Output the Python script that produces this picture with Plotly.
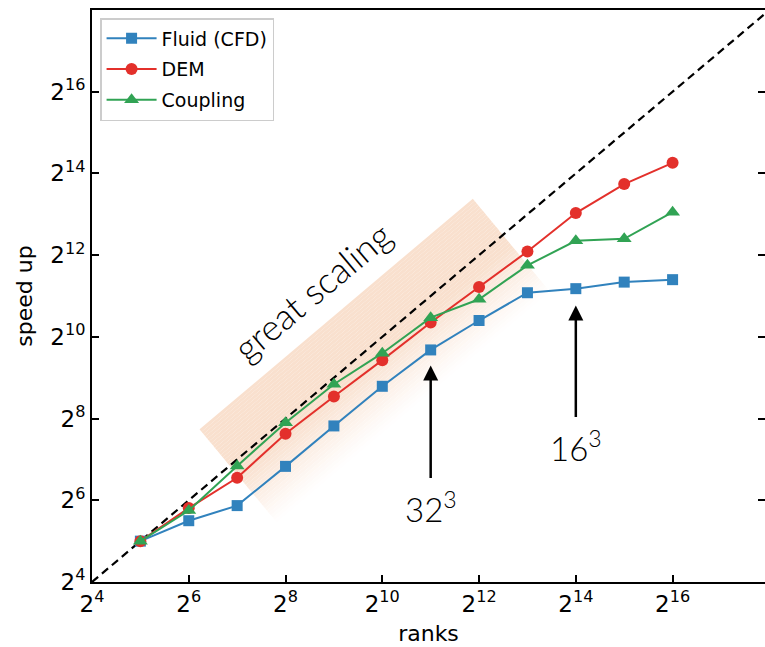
import plotly.graph_objects as go

# ---- data (log2 values) ----
ranks_exp = [5, 6, 7, 8, 9, 10, 11, 12, 13, 14, 15, 16]
fluid_exp = [5.0, 5.50, 5.87, 6.83, 7.82, 8.79, 9.68, 10.40, 11.08, 11.18, 11.34, 11.40]
dem_exp = [5.0, 5.81, 6.55, 7.63, 8.54, 9.43, 10.35, 11.22, 12.09, 13.03, 13.74, 14.26]
coupling_exp = [5.0, 5.75, 6.84, 7.90, 8.84, 9.60, 10.47, 10.92, 11.75, 12.35, 12.40, 13.05]
ideal_exp = [4, 18]
tick_exp = [4, 6, 8, 10, 12, 14, 16]
tick_text = ["2<sup>%d</sup>" % e for e in tick_exp]

BLUE = "#3182bd"
RED = "#e3302b"
GREEN = "#31a354"

fig = go.Figure()

# ideal scaling line
fig.add_trace(go.Scatter(x=ideal_exp, y=ideal_exp, mode="lines",
                         line=dict(color="black", width=2.2, dash="8px,5px"),
                         showlegend=False, hoverinfo="skip"))

for name, ys, col, sym, sz, grp in [
    ("Fluid (CFD)", fluid_exp, BLUE, "square", 11, "a"),
    ("DEM", dem_exp, RED, "circle", 12, "b"),
    ("Coupling", coupling_exp, GREEN, "triangle-up", 13, "c"),
]:
    fig.add_trace(go.Scatter(x=ranks_exp, y=ys, name=name, mode="lines+markers",
                             legendgroup=grp,
                             line=dict(color=col, width=2),
                             marker=dict(color=col, symbol=sym, size=sz,
                                         line=dict(width=0))))

# ---- "great scaling" band: rotated rectangle with a fading lower edge ----
A = (6.223, 7.736)   # upper-left corner
B = (11.870, 13.382)  # upper-right corner
D = (7.816, 5.462)   # lower-left corner
s = (D[0] - A[0], D[1] - A[1])
N = 40
base = (249, 224, 206)
shapes = []
for i in range(N):
    t0 = i / N
    t1 = (i + 1) / N
    tm = (t0 + t1) / 2
    if tm < 0.5:
        a = 1.0
    else:
        a = max(0.0, 1.0 - (tm - 0.5) / 0.5) ** 1.1
    col = tuple(int(round(255 - a * (255 - c))) for c in base)
    pts = [(A[0] + t0 * s[0], A[1] + t0 * s[1]),
           (B[0] + t0 * s[0], B[1] + t0 * s[1]),
           (B[0] + t1 * s[0], B[1] + t1 * s[1]),
           (A[0] + t1 * s[0], A[1] + t1 * s[1])]
    path = "M " + " L ".join("%f,%f" % p for p in pts) + " Z"
    shapes.append(dict(type="path", path=path, xref="x", yref="y",
                       fillcolor="rgb(%d,%d,%d)" % col, line=dict(width=0),
                       layer="below"))

ann_font = "Lato, Noto Sans, sans-serif"
annotations = [
    dict(x=8.55, y=11.12, xref="x", yref="y", text="great scaling",
         showarrow=False, textangle=-40,
         font=dict(family=ann_font, size=36, color="black", weight=300)),
    # 32^3 arrow
    dict(x=11, y=9.30, ax=11, ay=6.51, xref="x", yref="y", axref="x", ayref="y",
         text="", showarrow=True, arrowhead=2, arrowsize=1.2, arrowwidth=2.5,
         arrowcolor="black"),
    dict(x=11, y=5.83, xref="x", yref="y", text="32<sup>3</sup>", showarrow=False,
         font=dict(family=ann_font, size=33, color="black", weight=300)),
    # 16^3 arrow
    dict(x=14, y=10.77, ax=14, ay=8.0, xref="x", yref="y", axref="x", ayref="y",
         text="", showarrow=True, arrowhead=2, arrowsize=1.2, arrowwidth=2.5,
         arrowcolor="black"),
    dict(x=14, y=7.34, xref="x", yref="y", text="16<sup>3</sup>", showarrow=False,
         font=dict(family=ann_font, size=33, color="black", weight=300)),
]

tick_font = dict(family="DejaVu Sans", size=23, color="black")

fig.update_layout(
    width=765, height=647,
    margin=dict(l=92, r=0, t=10, b=65),
    paper_bgcolor="white", plot_bgcolor="white",
    shapes=shapes, annotations=annotations,
    showlegend=True,
    legend=dict(x=0.012, y=0.986, xanchor="left", yanchor="top",
                bgcolor="white", bordercolor="#cccccc", borderwidth=1.5,
                font=dict(family="DejaVu Sans", size=19, color="black"),
                itemwidth=50, tracegroupgap=3),
    xaxis=dict(range=[4, 17.91], tickmode="array", tickvals=tick_exp,
               ticktext=tick_text, ticks="inside", ticklen=7, tickwidth=1.5,
               tickcolor="black", showline=True, linecolor="black", linewidth=2,
               mirror=True, showgrid=False, zeroline=False, tickfont=tick_font,
               title=dict(text="ranks", font=dict(family="DejaVu Sans", size=22,
                                                  color="black"), standoff=10)),
    yaxis=dict(range=[4, 18], tickmode="array", tickvals=tick_exp,
               ticktext=tick_text, ticks="inside", ticklen=7, tickwidth=1.5,
               tickcolor="black", showline=True, linecolor="black", linewidth=2,
               mirror=False, showgrid=False, zeroline=False, tickfont=tick_font,
               title=dict(text="speed up", font=dict(family="DejaVu Sans", size=22,
                                                     color="black"), standoff=12)),
    yaxis2=dict(range=[4, 18], overlaying="y", side="right", tickmode="array",
                tickvals=tick_exp, ticks="inside", ticklen=7, tickwidth=1.5,
                tickcolor="black", showticklabels=False, showline=False,
                showgrid=False, zeroline=False),
)

# invisible trace to activate the right-side ticks axis
fig.add_trace(go.Scatter(x=[4], y=[4], yaxis="y2", mode="markers",
                         marker=dict(opacity=0), showlegend=False, hoverinfo="skip"))

fig.write_html("out.html")
